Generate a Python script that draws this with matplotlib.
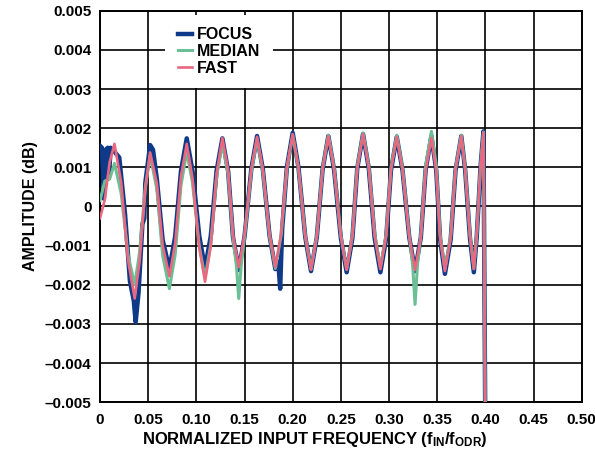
import numpy as np
import matplotlib
matplotlib.use("Agg")
import matplotlib.pyplot as plt

plt.rcParams['font.family'] = ['Liberation Sans', 'DejaVu Sans']
plt.rcParams['font.weight'] = 'bold'
plt.rcParams['mathtext.fontset'] = 'custom'
plt.rcParams['mathtext.rm'] = 'Liberation Sans:bold'
plt.rcParams['mathtext.it'] = 'Liberation Sans:bold'
plt.rcParams['mathtext.bf'] = 'Liberation Sans:bold'

# amplitudes in mdB
fast_freq = [0.000, 0.005, 0.010, 0.015, 0.022, 0.029, 0.036, 0.041, 0.047, 0.052,
             0.059, 0.065, 0.072, 0.078, 0.084, 0.090, 0.096, 0.103, 0.109, 0.115,
             0.121, 0.127, 0.133, 0.138, 0.144, 0.150, 0.157, 0.163, 0.169, 0.176,
             0.182, 0.188, 0.194, 0.200, 0.206, 0.213, 0.219, 0.225, 0.231, 0.237,
             0.243, 0.250, 0.256, 0.262, 0.267, 0.273, 0.279, 0.285, 0.291, 0.297,
             0.302, 0.308, 0.314, 0.321, 0.327, 0.333, 0.338, 0.344, 0.349, 0.353,
             0.358, 0.364, 0.369, 0.375, 0.379, 0.384, 0.388, 0.391, 0.395, 0.398,
             0.400]
fast_amp = [-0.30, 0.18, 1.13, 1.60, 0.61, -1.36, -2.35, -1.42, 0.45, 1.38,
            0.59, -0.99, -1.78, -0.94, 0.76, 1.60, 0.72, -1.04, -1.92, -1.00,
            0.83, 1.75, 0.93, -0.73, -1.55, -0.72, 0.95, 1.78, 0.95, -0.72,
            -1.55, -0.70, 1.00, 1.85, 0.98, -0.75, -1.62, -0.77, 0.95, 1.80,
            0.95, -0.77, -1.62, -0.75, 0.98, 1.85, 0.99, -0.74, -1.60, -0.76,
            0.94, 1.78, 0.93, -0.77, -1.62, -0.78, 0.91, 1.75, 0.90, -0.80,
            -1.65, -0.79, 0.94, 1.80, 0.95, -0.75, -1.60, -0.73, 1.03, 1.90,
            -6.0]

median_freq = [0.000, 0.005, 0.010, 0.015, 0.022, 0.029, 0.036, 0.041, 0.047, 0.052,
               0.059, 0.065, 0.072, 0.078, 0.084, 0.090, 0.096, 0.103, 0.109, 0.115,
               0.121, 0.127, 0.133, 0.138, 0.1415, 0.144, 0.1465, 0.150, 0.157, 0.163,
               0.169, 0.176, 0.182, 0.188, 0.194, 0.200, 0.206, 0.213, 0.219, 0.225,
               0.231, 0.237, 0.243, 0.250, 0.256, 0.262, 0.267, 0.273, 0.279, 0.285,
               0.291, 0.297, 0.302, 0.308, 0.314, 0.321, 0.3245, 0.327, 0.3295, 0.333,
               0.338, 0.344, 0.349, 0.353, 0.358, 0.364, 0.369, 0.375, 0.379, 0.384,
               0.388, 0.391, 0.395, 0.398, 0.400]
median_amp = [0.15, 0.65, 0.70, 1.10, 0.33, -1.23, -2.00, -1.18, 0.48, 1.30,
              0.45, -1.25, -2.10, -1.23, 0.53, 1.40, 0.60, -1.02, -1.82, -0.96,
              0.76, 1.62, 0.82, -0.80, -1.50, -2.35, -1.50, -0.77, 0.89, 1.72,
              0.90, -0.76, -1.58, -0.73, 0.97, 1.82, 0.97, -0.75, -1.60, -0.75,
              0.97, 1.82, 0.97, -0.75, -1.60, -0.73, 1.01, 1.88, 1.02, -0.69,
              -1.55, -0.71, 0.98, 1.82, 0.97, -0.75, -1.50, -2.50, -1.50, -0.72,
              1.04, 1.92, 1.04, -0.72, -1.60, -0.75, 0.97, 1.82, 0.97, -0.73,
              -1.58, -0.71, 1.03, 1.90, -6.0]

focus_freq = [0.000, 0.002, 0.004, 0.006, 0.008, 0.0095, 0.011, 0.015, 0.020, 0.026,
              0.031, 0.035, 0.037, 0.040, 0.044, 0.046, 0.047, 0.052, 0.055, 0.059,
              0.065, 0.072, 0.078, 0.084, 0.090, 0.096, 0.103, 0.109, 0.115, 0.121,
              0.127, 0.133, 0.138, 0.144, 0.150, 0.157, 0.163, 0.169, 0.176, 0.182,
              0.185, 0.187, 0.189, 0.194, 0.200, 0.206, 0.213, 0.219, 0.225, 0.231,
              0.237, 0.243, 0.250, 0.256, 0.262, 0.267, 0.273, 0.279, 0.285, 0.291,
              0.297, 0.302, 0.308, 0.314, 0.321, 0.327, 0.333, 0.338, 0.344, 0.349,
              0.353, 0.358, 0.364, 0.369, 0.375, 0.379, 0.384, 0.388, 0.391, 0.395,
              0.398, 0.400]
focus_amp = [1.55, 1.50, 0.20, 1.45, 1.50, 0.85, 1.50, 1.40, 1.25, -0.20,
             -1.90, -2.40, -2.95, -2.20, -0.45, -0.30, 0.60, 1.57, 1.45, 0.70,
             -0.85, -1.60, -0.77, 0.90, 1.74, 0.91, -0.75, -1.58, -0.75, 0.91,
             1.74, 0.90, -0.78, -1.62, -0.77, 0.95, 1.80, 0.95, -0.75, -1.60,
             -1.40, -2.10, -0.60, 1.01, 1.88, 1.00, -0.77, -1.65, -0.79, 0.94,
             1.80, 0.93, -0.81, -1.68, -0.80, 0.97, 1.85, 0.97, -0.80, -1.68,
             -0.82, 0.92, 1.78, 0.92, -0.79, -1.65, -0.79, 0.94, 1.80, 0.92,
             -0.84, -1.72, -0.84, 0.92, 1.80, 0.93, -0.81, -1.68, -0.78, 1.02,
             1.92, -6.0]

xticks = [0, 0.05, 0.10, 0.15, 0.20, 0.25, 0.30, 0.35, 0.40, 0.45, 0.50]
xtick_labels = ['0', '0.05', '0.10', '0.15', '0.20', '0.25', '0.30', '0.35', '0.40', '0.45', '0.50']
yticks = [-0.005, -0.004, -0.003, -0.002, -0.001, 0, 0.001, 0.002, 0.003, 0.004, 0.005]
ytick_labels = ['\u20130.005', '\u20130.004', '\u20130.003', '\u20130.002', '\u20130.001', '0',
                '0.001', '0.002', '0.003', '0.004', '0.005']

fig = plt.figure(figsize=(5.95, 4.57), dpi=100)
ax = fig.add_axes([0.1681, 0.1197, 0.8096, 0.8569])

ax.plot(focus_freq, np.array(focus_amp) * 1e-3, color='#0f3a8a', lw=3.2, label='FOCUS', zorder=3)
ax.plot(median_freq, np.array(median_amp) * 1e-3, color='#6bbf94', lw=2.2, label='MEDIAN', zorder=4)
ax.plot(fast_freq, np.array(fast_amp) * 1e-3, color='#e9677f', lw=1.9, label='FAST', zorder=5)

ax.set_xlim(0, 0.5)
ax.set_ylim(-0.005, 0.005)
ax.set_xticks(xticks)
ax.set_xticklabels(xtick_labels)
ax.set_yticks(yticks)
ax.set_yticklabels(ytick_labels)
ax.tick_params(length=0, labelsize=11)
ax.tick_params(axis='x', pad=7.5)
ax.tick_params(axis='y', pad=6)
ax.grid(True, color='black', lw=1.2)
ax.set_axisbelow(True)
for s in ax.spines.values():
    s.set_linewidth(1.4)

ax.set_xlabel(r'NORMALIZED INPUT FREQUENCY (f$_{\mathrm{IN}}$/f$_{\mathrm{ODR}}$)',
              fontsize=12, fontweight='bold')
ax.xaxis.set_label_coords(0.445, -0.072)
ax.set_ylabel('AMPLITUDE (dB)', fontsize=11.5, fontweight='bold', labelpad=5)

leg = ax.legend(loc='upper left', bbox_to_anchor=(0.135, 0.99), fontsize=11.5,
                frameon=True, fancybox=False, edgecolor='none', facecolor='white',
                framealpha=1, borderpad=0.8, handlelength=0.9, handletextpad=0.3,
                labelspacing=0.1, borderaxespad=0)
leg.set_zorder(6)

fig.savefig('out.png', dpi=100)
